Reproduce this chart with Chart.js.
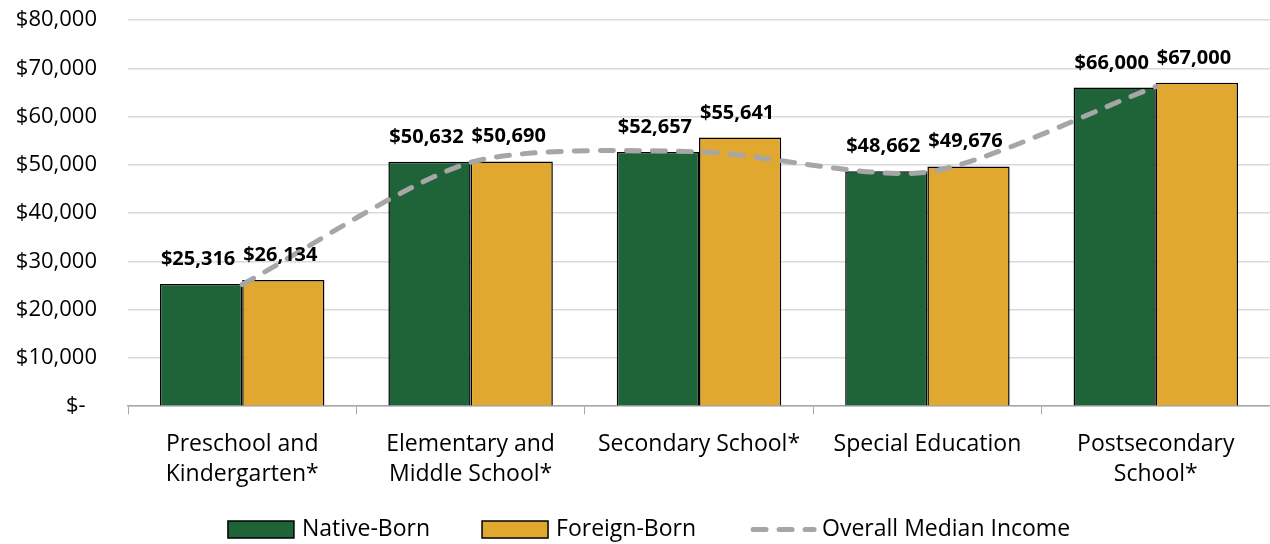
<!DOCTYPE html>
<html>
<head>
<meta charset="utf-8">
<script src="https://cdn.jsdelivr.net/npm/chart.js@4/dist/chart.umd.min.js"></script>
<style>
  html, body { margin: 0; padding: 0; background: #fff; }
  #wrap { width: 1270px; height: 544px; position: relative; }
</style>
</head>
<body>
<div id="wrap"><canvas id="chart"></canvas></div>
<script>
const CATEGORIES = [
  ['Preschool and', 'Kindergarten*'],
  ['Elementary and', 'Middle School*'],
  'Secondary School*',
  'Special Education',
  ['Postsecondary', 'School*'],
];
const NATIVE_BORN = [25316, 50632, 52657, 48662, 66000];
const FOREIGN_BORN = [26134, 50690, 55641, 49676, 67000];
const MEDIAN_INCOME = [25200, 50500, 52700, 48500, 66200];
const SERIES_NAMES = ['Native-Born', 'Foreign-Born', 'Overall Median Income'];
const Y_TICKS = { min: 0, max: 80000, step: 10000 };

const GREEN = '#1f6339';
const GOLD = '#e0a82e';
const LINE_GRAY = '#a6a6a6';
const FONT = "'Open Sans', 'DejaVu Sans', sans-serif";

function fmtMoney(v) {
  return '$' + v.toLocaleString('en-US');
}

// value labels above each bar
const barLabels = {
  id: 'barLabels',
  afterDatasetsDraw(chart) {
    const { ctx } = chart;
    ctx.save();
    ctx.font = `bold 20px ${FONT}`;
    ctx.fillStyle = '#000';
    ctx.textAlign = 'center';
    ctx.textBaseline = 'alphabetic';
    chart.data.datasets.forEach((ds, i) => {
      if (ds.type === 'line') return;
      const meta = chart.getDatasetMeta(i);
      meta.data.forEach((bar, j) => {
        ctx.fillText(fmtMoney(ds.data[j]), bar.x - 3, bar.y - 19);
      });
    });
    ctx.restore();
  },
};

// Excel-style legend at the bottom
const bottomLegend = {
  id: 'bottomLegend',
  afterDraw(chart) {
    const { ctx } = chart;
    const boxW = 66;
    const boxH = 17;
    const gapText = 8;
    const gapItem = 52;
    const cy = 529.5;
    ctx.save();
    ctx.font = `23px ${FONT}`;
    const items = chart.data.datasets.map((ds) => ({
      label: ds.label,
      isLine: ds.type === 'line',
      color: ds.type === 'line' ? ds.borderColor : ds.backgroundColor,
      w: boxW + gapText + ctx.measureText(ds.label).width,
    }));
    const total = items.reduce((s, it) => s + it.w, 0) + gapItem * (items.length - 1);
    let x = 649 - total / 2;
    items.forEach((it) => {
      if (it.isLine) {
        ctx.strokeStyle = it.color;
        ctx.lineWidth = 5;
        ctx.lineCap = 'round';
        ctx.setLineDash([13, 13]);
        ctx.beginPath();
        ctx.moveTo(x + 5, cy);
        ctx.lineTo(x + boxW, cy);
        ctx.stroke();
        ctx.setLineDash([]);
      } else {
        ctx.fillStyle = it.color;
        ctx.fillRect(x, cy - boxH / 2, boxW, boxH);
        ctx.strokeStyle = '#000';
        ctx.lineWidth = 1.5;
        ctx.strokeRect(x, cy - boxH / 2, boxW, boxH);
      }
      ctx.fillStyle = '#000';
      ctx.textAlign = 'left';
      ctx.textBaseline = 'middle';
      ctx.fillText(it.label, x + boxW + gapText, cy);
      x += it.w + gapItem;
    });
    ctx.restore();
  },
};

new Chart(document.getElementById('chart'), {
  type: 'bar',
  data: {
    labels: CATEGORIES,
    datasets: [
      {
        label: SERIES_NAMES[0],
        data: NATIVE_BORN,
        backgroundColor: GREEN,
        borderColor: '#000',
        borderWidth: 1.5,
        categoryPercentage: 0.72,
        barPercentage: 1.0,
        order: 1,
      },
      {
        label: SERIES_NAMES[1],
        data: FOREIGN_BORN,
        backgroundColor: GOLD,
        borderColor: '#000',
        borderWidth: 1.5,
        categoryPercentage: 0.72,
        barPercentage: 1.0,
        order: 1,
      },
      {
        type: 'line',
        label: SERIES_NAMES[2],
        data: MEDIAN_INCOME,
        borderColor: LINE_GRAY,
        borderWidth: 5,
        borderDash: [13, 13],
        borderCapStyle: 'round',
        tension: 0.25,
        pointRadius: 0,
        fill: false,
        order: 0,
      },
    ],
  },
  options: {
    responsive: true,
    maintainAspectRatio: false,
    animation: false,
    layout: { padding: { left: 10, right: 0, top: 20, bottom: 40 } },
    plugins: {
      legend: { display: false },
      tooltip: { enabled: false },
    },
    scales: {
      x: {
        grid: {
          offset: true,
          drawOnChartArea: false,
          drawTicks: true,
          tickLength: 8,
          color: '#a6a6a6',
        },
        border: { color: '#a6a6a6', width: 1.5 },
        ticks: {
          color: '#000',
          padding: 15,
          maxRotation: 0,
          autoSkip: false,
          font: { family: FONT, size: 23, lineHeight: 1.3 },
        },
      },
      y: {
        min: Y_TICKS.min,
        max: Y_TICKS.max,
        afterFit(scale) { scale.width = 118; },
        grid: {
          color: '#d9d9d9',
          lineWidth: 1.5,
          drawTicks: true,
          tickLength: 29,
          tickColor: 'rgba(0,0,0,0)',
        },
        border: { display: false },
        ticks: {
          stepSize: Y_TICKS.step,
          color: '#000',
          padding: 2,
          font: { family: FONT, size: 22 },
          callback: (v) => (v === 0 ? '$-  ' : fmtMoney(v)),
        },
      },
    },
  },
  plugins: [barLabels, bottomLegend],
});
</script>
</body>
</html>
